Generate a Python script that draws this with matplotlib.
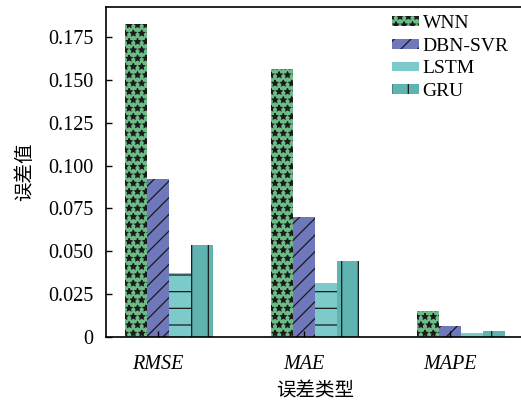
import numpy as np
import matplotlib.pyplot as plt

# data
categories = ['RMSE', 'MAE', 'MAPE']
models = ['WNN', 'DBN-SVR', 'LSTM', 'GRU']
wnn = [0.1826, 0.1564, 0.0152]
dbn_svr = [0.0922, 0.0702, 0.0064]
lstm = [0.0372, 0.0317, 0.0022]
gru = [0.0537, 0.0445, 0.0033]
yticks = [0, 0.025, 0.05, 0.075, 0.1, 0.125, 0.15, 0.175]
ytick_labels = ['0', '0.025', '0.050', '0.075', '0.100', '0.125', '0.150', '0.175']

plt.rcParams['font.family'] = ['Liberation Serif', 'Noto Sans CJK SC']
plt.rcParams['hatch.linewidth'] = 0.9

fig = plt.figure(figsize=(5.21, 4.03), dpi=100)
ax = fig.add_axes([0.2035, 0.1638, 0.804, 0.8188])

x = np.arange(len(categories))
w = 0.15
series = [wnn, dbn_svr, lstm, gru]
colors = ['#6dbb86', '#6f78bb', '#7ccbca', '#5fb4b2']
hatches = ['**', '//', '-', '|']
offsets = [-1, 0, 1, 2]
for vals, name, c, h, o in zip(series, models, colors, hatches, offsets):
    ax.bar(x + o * w, vals, w, color=c, hatch=h, edgecolor='#1a1a1a',
           linewidth=0, label=name)

ax.set_xlim(-0.356, 2.514)
ax.set_ylim(0, 0.1925)
ax.set_xticks(x)
ax.set_xticklabels(categories, style='italic', fontsize=14.5)
ax.set_yticks(yticks)
ax.set_yticklabels(ytick_labels, fontsize=14.5)
ax.tick_params(direction='in', length=4, width=1)
ax.tick_params(axis='x', pad=13)
ax.tick_params(axis='y', pad=9)
for s in ax.spines.values():
    s.set_linewidth(1.2)

ax.set_ylabel('误差值', fontsize=14, labelpad=10)
ax.set_xlabel('误差类型', fontsize=14, labelpad=6)

ax.legend(loc='upper left', bbox_to_anchor=(0.665, 1.0), frameon=False,
          fontsize=14, handlelength=1.35, handleheight=0.4,
          handletextpad=0.2, labelspacing=0.3, borderaxespad=0.0)

fig.savefig('out.png', dpi=100)
